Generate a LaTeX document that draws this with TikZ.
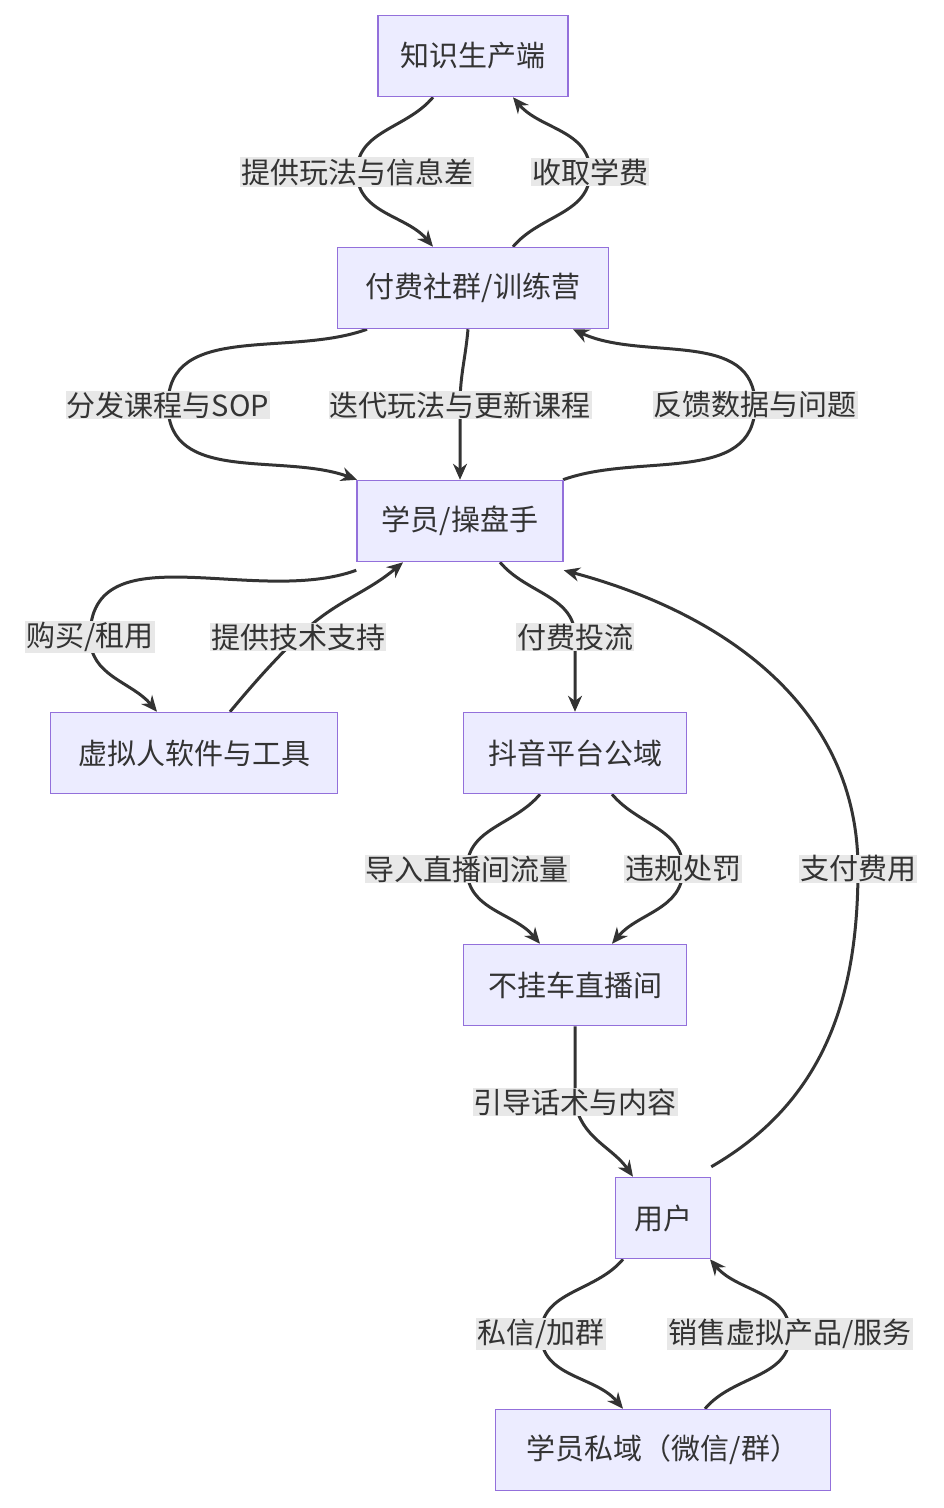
\documentclass[tikz,border=0pt]{standalone}
\usepackage{fontspec}
\setmainfont{Noto Sans CJK SC}
\usepackage{xcolor}
\usetikzlibrary{arrows.meta}
\usetikzlibrary{positioning}
\definecolor{boxfill}{HTML}{ECECFF}
\definecolor{boxline}{HTML}{9370DB}
\definecolor{edgecol}{HTML}{333333}
\definecolor{lblfill}{HTML}{E8E8E8}
\pgfdeclarelayer{bg}
\pgfsetlayers{bg,main}

\begin{document}
\begin{tikzpicture}[x=1pt,y=-1pt,
	every node/.style={font=\fontsize{29}{34}\selectfont, text=edgecol},
	box/.style={draw=boxline, fill=boxfill, line width=1.5pt, minimum height=81pt, inner sep=0pt},
	lbl/.style={fill=lblfill, inner sep=1pt},
	arr/.style={-{Stealth[length=16pt,width=14pt]}, draw=edgecol, line width=3pt}]
	\useasboundingbox (0,0) rectangle (944,1508);
	% boxes
	\node[box, minimum width=190pt] (know) at (473,56) {知识生产端};
	\node[box, minimum width=271pt] (camp) at (473,288) {付费社群/训练营};
	\node[box, minimum width=206pt] (stud) at (460,521) {学员/操盘手};
	\node[box, minimum width=287pt] (tool) at (194,753) {虚拟人软件与工具};
	\node[box, minimum width=223pt] (douyin) at (575,753) {抖音平台公域};
	\node[box, minimum width=223pt] (live) at (575,985) {不挂车直播间};
	\node[box, minimum width=95pt] (user) at (663,1218) {用户};
	\node[box, minimum width=335pt] (priv) at (663,1450) {学员私域（微信/群）};
	% labels
	\node[lbl] (l1) at (357,172) {提供玩法与信息差};
	\node[lbl] (l2) at (590,172) {收取学费};
	\node[lbl] (l3) at (168,405) {分发课程与SOP};
	\node[lbl] (l4) at (460,405) {迭代玩法与更新课程};
	\node[lbl] (l5) at (755,405) {反馈数据与问题};
	\node[lbl] (l6) at (90,637) {购买/租用};
	\node[lbl] (l7) at (298,637) {提供技术支持};
	\node[lbl] (l8) at (575,637) {付费投流};
	\node[lbl] (l9) at (467,869) {导入直播间流量};
	\node[lbl] (l10) at (683,869) {违规处罚};
	\node[lbl] (l11) at (858,869) {支付费用};
	\node[lbl] (l12) at (575,1102) {引导话术与内容};
	\node[lbl] (l13) at (541,1334) {私信/加群};
	\node[lbl] (l14) at (790,1334) {销售虚拟产品/服务};
	% edges
	\begin{pgfonlayer}{bg}
	\draw[arr] ([xshift=-40pt]know.south) to[out=-130,in=90] (l1.center) to[out=-90,in=130] ([xshift=-40pt]camp.north);
	\draw[arr] ([xshift=40pt]camp.north) to[out=50,in=-90] (l2.center) to[out=90,in=-50] ([xshift=40pt]know.south);
	\draw[arr] ([xshift=-106pt]camp.south) to[out=-160,in=90] (l3.center) to[out=-90,in=160] ([xshift=-103pt]stud.north);
	\draw[arr] ([xshift=-5pt]camp.south) to[out=-95,in=90] (l4.center) -- (stud.north);
	\draw[arr] ([xshift=103pt]stud.north) to[out=20,in=-90] (l5.center) to[out=90,in=-25] ([xshift=100pt]camp.south);
	\draw[arr] ([yshift=-8pt]stud.south west) to[out=-160,in=90] (l6.center) to[out=-90,in=130] ([xshift=-37pt]tool.north);
	\draw[arr] ([xshift=36pt]tool.north) to[out=50,in=-135] (l7.center) to[out=45,in=-140] ([xshift=-57pt]stud.south);
	\draw[arr] ([xshift=40pt]stud.south) to[out=-50,in=90] (l8.center) -- (douyin.north);
	\draw[arr] ([xshift=-35pt]douyin.south) to[out=-130,in=90] (l9.center) to[out=-90,in=130] ([xshift=-35pt]live.north);
	\draw[arr] ([xshift=37pt]douyin.south) to[out=-50,in=90] (l10.center) to[out=-90,in=50] ([xshift=37pt]live.north);
	\draw[arr] (live.south) to[out=-90,in=90] (l12.center) to[out=-80,in=125] ([xshift=-30pt]user.north);
	\draw[arr] ([yshift=10pt]user.north east) to[out=30,in=-90] (l11.center) to[out=90,in=-15] ([yshift=-8pt]stud.south east);
	\draw[arr] ([xshift=-40pt]user.south) to[out=-130,in=90] (l13.center) to[out=-90,in=130] ([xshift=-40pt]priv.north);
	\draw[arr] ([xshift=42pt]priv.north) to[out=50,in=-90] (l14.center) to[out=90,in=-50] ([xshift=47pt]user.south);
	\end{pgfonlayer}
\end{tikzpicture}
\end{document}
